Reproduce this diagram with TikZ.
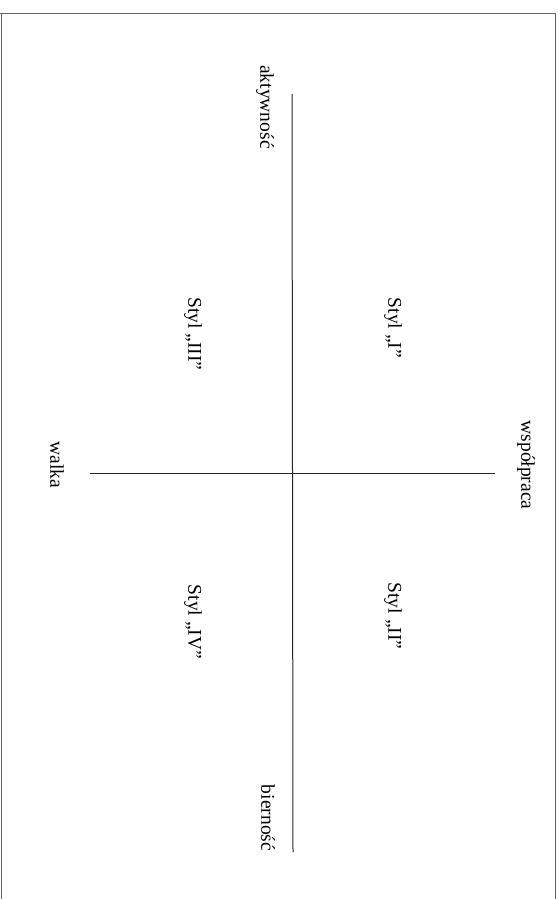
\documentclass[tikz,border=0pt]{standalone}
\usepackage{fontspec}
\setmainfont{Liberation Serif}
\begin{document}
\begin{tikzpicture}[x=1pt,y=-1pt,
  lbl/.style={rotate=-90,inner sep=0pt,font=\fontsize{19.5}{22}\selectfont},
  axis/.style={line width=1pt,black!85},
  frame/.style={line width=0.6pt,black!60}]
\useasboundingbox (0,0) rectangle (557,899);
\fill[white] (0,0) rectangle (557,899);
% scanned page edges
\draw[frame] (0,13) -- (555,13) -- (555,899);
\draw[frame] (1,13) -- (1,899);
% axes
\coordinate (vt) at (292,94);
\coordinate (vb) at (293,852);
\coordinate (hl) at (90,473);
\coordinate (hr) at (495,473);
\draw[axis] (vt) -- (vb);
\draw[axis] (hl) -- (hr);
% labels
\node[lbl] (akt) at (265,107) {aktywność};
\node[lbl] (bier) at (268,818) {bierność};
\node[lbl] (wsp) at (526,465) {współpraca};
\node[lbl] (wal) at (57,465) {walka};
\node[lbl] (s1) at (393,328) {Styl „I”};
\node[lbl] (s3) at (193,334) {Styl „III”};
\node[lbl] (s2) at (393,616) {Styl „II”};
\node[lbl] (s4) at (193,622) {Styl „IV”};
\end{tikzpicture}
\end{document}
